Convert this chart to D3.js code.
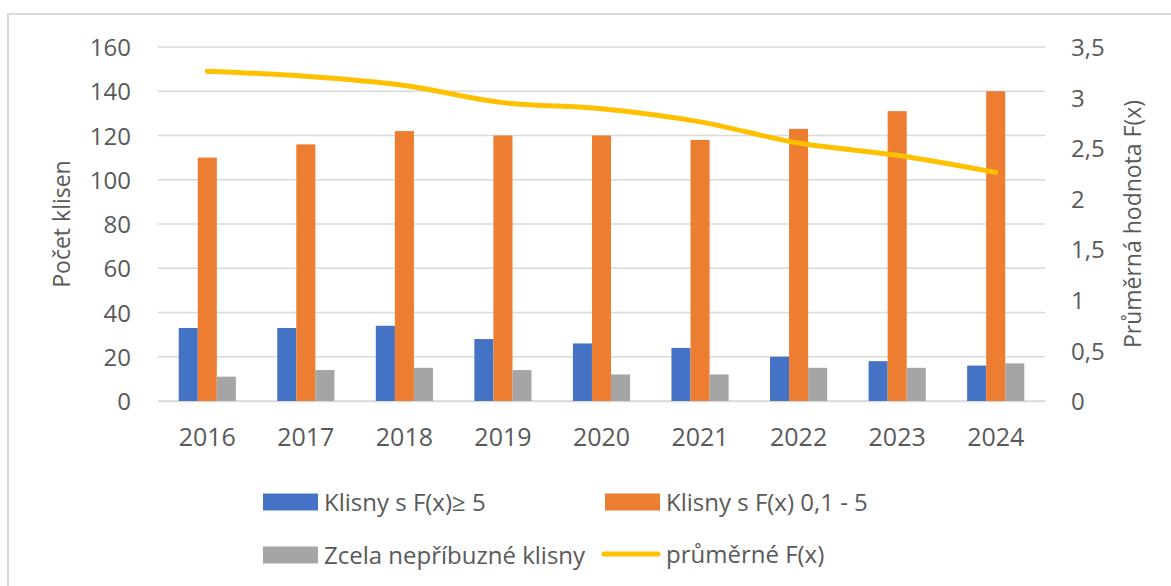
<!DOCTYPE html>
<html>
<head>
<meta charset="utf-8">
<script src="https://cdn.jsdelivr.net/npm/d3@7"></script>
<style>
  body { margin: 0; background: #fff; }
  text { font-family: "Open Sans", "Noto Sans", sans-serif; fill: #595959; }
</style>
</head>
<body>
<div id="container"></div>
<script>
// DATA
const years = ["2016", "2017", "2018", "2019", "2020", "2021", "2022", "2023", "2024"];
const highF = [33, 33, 34, 28, 26, 24, 20, 18, 16];
const midF = [110, 116, 122, 120, 120, 118, 123, 131, 140];
const unrelated = [11, 14, 15, 14, 12, 12, 15, 15, 17];
const avgF = [3.26, 3.21, 3.12, 2.95, 2.89, 2.76, 2.55, 2.43, 2.26];
const leftTicks = [0, 20, 40, 60, 80, 100, 120, 140, 160];
const rightTicks = [0, 0.5, 1, 1.5, 2, 2.5, 3, 3.5];
const seriesNames = ["Klisny s F(x)≥ 5", "Klisny s F(x) 0,1 - 5", "Zcela nepříbuzné klisny", "průměrné F(x)"];
const colors = ["#4472C4", "#ED7D31", "#A5A5A5", "#FFC000"];

// VARIABLES
const width = 1171;
const height = 586;
const plot = {left: 158, right: 1045, top: 47, bottom: 401};

const svg = d3.select("#container")
  .append("svg")
  .attr("width", width)
  .attr("height", height);

// chart border
svg.append("rect")
  .attr("x", 8).attr("y", 14)
  .attr("width", width).attr("height", height)
  .attr("fill", "none")
  .attr("stroke", "#d9d9d9")
  .attr("stroke-width", 2);

// SCALES
const x = d3.scaleBand()
  .domain(years)
  .range([plot.left, plot.right])
  .paddingInner(0.42)
  .paddingOuter(0.21);

const x1 = d3.scaleBand()
  .domain([0, 1, 2])
  .range([0, x.bandwidth()]);

const y = d3.scaleLinear()
  .domain([0, 160])
  .range([plot.bottom, plot.top]);

const y2 = d3.scaleLinear()
  .domain([0, 3.5])
  .range([plot.bottom, plot.top]);

// gridlines
svg.append("g")
  .selectAll("line")
  .data(leftTicks)
  .join("line")
  .attr("x1", plot.left)
  .attr("x2", plot.right)
  .attr("y1", d => y(d))
  .attr("y2", d => y(d))
  .attr("stroke", "#d9d9d9")
  .attr("stroke-width", 1.5);

// left axis
const leftAxis = svg.append("g")
  .attr("transform", `translate(${plot.left},0)`)
  .call(d3.axisLeft(y).tickValues(leftTicks).tickSize(0).tickPadding(27));
leftAxis.select(".domain").remove();
leftAxis.selectAll("text")
  .attr("font-size", 24)
  .attr("dy", "0.36em")
  .attr("fill", "#595959");

// right axis
const rightAxis = svg.append("g")
  .attr("transform", `translate(${plot.right},0)`)
  .call(d3.axisRight(y2).tickValues(rightTicks).tickSize(0).tickPadding(26)
    .tickFormat(d => String(d).replace(".", ",")));
rightAxis.select(".domain").remove();
rightAxis.selectAll("text")
  .attr("font-size", 24)
  .attr("dy", "0.36em")
  .attr("fill", "#595959");

// x axis
const xAxis = svg.append("g")
  .attr("transform", `translate(0,${plot.bottom})`)
  .call(d3.axisBottom(x).tickSize(0).tickPadding(27));
xAxis.select(".domain").attr("stroke", "#d9d9d9").attr("stroke-width", 1.5);
xAxis.selectAll("text")
  .attr("font-size", 25)
  .attr("fill", "#595959");

// axis titles
svg.append("text")
  .attr("transform", `translate(70,224) rotate(-90)`)
  .attr("text-anchor", "middle")
  .attr("font-size", 23)
  .text("Počet klisen");

svg.append("text")
  .attr("transform", `translate(1141,224) rotate(-90)`)
  .attr("text-anchor", "middle")
  .attr("font-size", 23)
  .text("Průměrná hodnota F(x)");

// BARS
const barSeries = [highF, midF, unrelated];
barSeries.forEach((vals, i) => {
  svg.append("g")
    .selectAll("rect")
    .data(vals)
    .join("rect")
    .attr("x", (d, j) => x(years[j]) + x1(i))
    .attr("y", d => y(d))
    .attr("width", x1.bandwidth())
    .attr("height", d => y(0) - y(d))
    .attr("fill", colors[i]);
});

// LINE
const line = d3.line()
  .x((d, j) => x(years[j]) + x.bandwidth() / 2)
  .y(d => y2(d))
  .curve(d3.curveMonotoneX);

svg.append("path")
  .datum(avgF)
  .attr("d", line)
  .attr("fill", "none")
  .attr("stroke", colors[3])
  .attr("stroke-width", 5)
  .attr("stroke-linecap", "round");

// LEGEND
const legendItems = [
  {name: seriesNames[0], color: colors[0], type: "rect", x: 263, y: 502},
  {name: seriesNames[1], color: colors[1], type: "rect", x: 605, y: 502},
  {name: seriesNames[2], color: colors[2], type: "rect", x: 263, y: 555},
  {name: seriesNames[3], color: colors[3], type: "line", x: 605, y: 554}
];

const legend = svg.append("g")
  .selectAll("g")
  .data(legendItems)
  .join("g")
  .attr("transform", d => `translate(${d.x},${d.y})`);

legend.filter(d => d.type === "rect")
  .append("rect")
  .attr("x", 0).attr("y", -8.5)
  .attr("width", 55).attr("height", 17)
  .attr("fill", d => d.color);

legend.filter(d => d.type === "line")
  .append("line")
  .attr("x1", -1).attr("x2", 53)
  .attr("y1", 0).attr("y2", 0)
  .attr("stroke", d => d.color)
  .attr("stroke-width", 5)
  .attr("stroke-linecap", "round");

legend.append("text")
  .attr("x", 61)
  .attr("dy", "0.36em")
  .attr("font-size", 24)
  .text(d => d.name);
</script>
</body>
</html>
